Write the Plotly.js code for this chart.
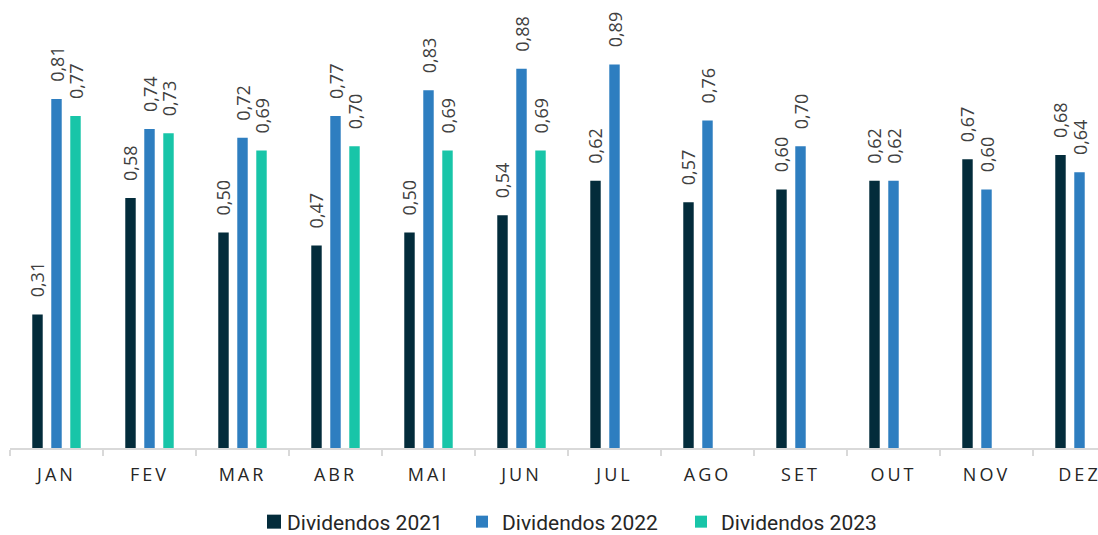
<!DOCTYPE html>
<html>
<head>
<meta charset="utf-8">
<script src="https://cdn.plot.ly/plotly-3.0.1.min.js"></script>
<style>
  html, body { margin: 0; padding: 0; overflow: hidden; background: #ffffff; }
  #chart { width: 1130px; height: 535px; }
  .xtick text { letter-spacing: 3px; }
</style>
</head>
<body>
<div id="chart"></div>
<script>
const months = ["JAN", "FEV", "MAR", "ABR", "MAI", "JUN", "JUL", "AGO", "SET", "OUT", "NOV", "DEZ"];
const div2021 = [0.31, 0.58, 0.50, 0.47, 0.50, 0.54, 0.62, 0.57, 0.60, 0.62, 0.67, 0.68];
const div2022 = [0.81, 0.74, 0.72, 0.77, 0.83, 0.88, 0.89, 0.76, 0.70, 0.62, 0.60, 0.64];
const div2023 = [0.77, 0.73, 0.69, 0.70, 0.69, 0.69, null, null, null, null, null, null];
const seriesNames = ["Dividendos 2021", "Dividendos 2022", "Dividendos 2023"];
const seriesColors = ["#032c3b", "#2e7ec0", "#18c5a8"];
const legendIds = ["legend", "legend2", "legend3"];

const labelFont = { family: "Open Sans", size: 18, color: "#404040" };
const legendFont = { family: "Roboto", size: 21, color: "#262626" };
const W = 1130;
// left edge (px) of each legend entry's text in the reference
const legendTextLeft = [287, 502, 721];

function makeTrace(values, i) {
  return {
    type: "bar",
    name: seriesNames[i],
    x: months,
    y: values,
    legend: legendIds[i],
    marker: { color: seriesColors[i] },
    texttemplate: "\u00A0\u00A0\u00A0%{y:.2f}",
    textposition: "outside",
    textangle: -90,
    constraintext: "none",
    cliponaxis: false,
    textfont: labelFont,
    hoverinfo: "skip"
  };
}

const data = [makeTrace(div2021, 0), makeTrace(div2022, 1), makeTrace(div2023, 2)];

function makeLegend(i) {
  return {
    orientation: "h",
    xref: "container",
    x: (legendTextLeft[i] - 40) / W,
    xanchor: "left",
    yref: "container",
    y: 0.0243,
    yanchor: "middle",
    font: legendFont,
    bgcolor: "rgba(0,0,0,0)"
  };
}

const layout = {
  width: W,
  height: 535,
  margin: { l: 10, r: 4, t: 10, b: 87, autoexpand: false },
  paper_bgcolor: "#ffffff",
  plot_bgcolor: "#ffffff",
  separators: ",.",
  barmode: "group",
  bargap: 0.387,
  bargroupgap: 0.45,
  showlegend: true,
  legend: makeLegend(0),
  legend2: makeLegend(1),
  legend3: makeLegend(2),
  xaxis: {
    type: "category",
    showline: true,
    linecolor: "#d9d9d9",
    linewidth: 1.5,
    ticks: "outside",
    ticklen: 6,
    tickcolor: "#d9d9d9",
    tickwidth: 1.5,
    tickson: "boundaries",
    ticklabelstandoff: 10,
    tickfont: { family: "Open Sans", size: 18, color: "#262626" },
    showgrid: false,
    zeroline: false,
    fixedrange: true
  },
  yaxis: {
    visible: false,
    range: [0, 1.0162],
    showgrid: false,
    zeroline: false,
    fixedrange: true
  }
};

Plotly.newPlot("chart", data, layout, { displayModeBar: false, responsive: false }).then(function (gd) {
  // Enlarge legend swatches and bring them closer to their labels, as in the reference.
  gd.querySelectorAll(".traces").forEach(function (tr) {
    const txt = tr.querySelector("text.legendtext");
    const path = tr.querySelector(".legendpoints path");
    if (!txt || !path) return;
    path.setAttribute("d", "M7,7H-7V-7H7Z");
    const tb = txt.getBoundingClientRect();
    const pb = path.getBoundingClientRect();
    const dx = (tb.left - 6 - 7) - (pb.left + pb.width / 2);
    const cur = path.getAttribute("transform") || "";
    path.setAttribute("transform", cur + " translate(" + dx.toFixed(1) + ",0)");
  });
});
</script>
</body>
</html>
